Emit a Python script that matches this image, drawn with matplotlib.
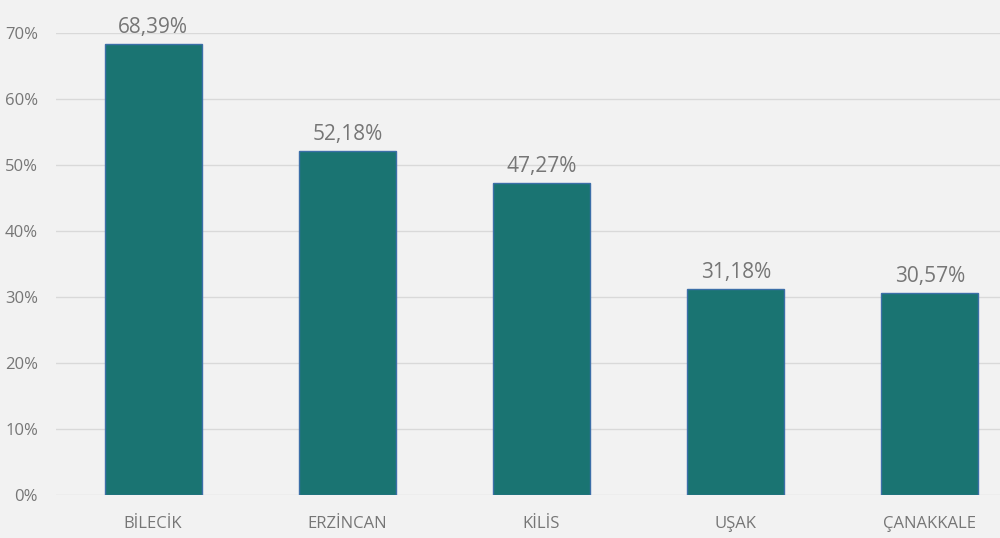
import matplotlib
matplotlib.use("Agg")
import matplotlib.pyplot as plt
from matplotlib.ticker import FuncFormatter

categories = ["BİLECİK", "ERZİNCAN", "KİLİS", "UŞAK", "ÇANAKKALE"]
values = [68.39, 52.18, 47.27, 31.18, 30.57]
yticks = [0, 10, 20, 30, 40, 50, 60, 70]

plt.rcParams['font.family'] = ['Open Sans', 'DejaVu Sans']

fig = plt.figure(figsize=(10, 5.38), dpi=100)
bg = "#F2F2F2"
fig.patch.set_facecolor(bg)
ax = fig.add_axes([0.056, (538-495)/538, 0.971, (495-33)/538])
ax.set_facecolor(bg)

x = list(range(len(categories)))
bars = ax.bar(x, values, width=0.5, color="#1A7472", edgecolor="#3C6FA8", linewidth=1.0, zorder=3)

for xi, v in zip(x, values):
    ax.text(xi, v + 0.9, f"{v:.2f}".replace(".", ",") + "%", ha="center", va="bottom",
            fontsize=15, color="#767676", zorder=4)

ax.set_xlim(-0.5, 4.5)
ax.set_ylim(0, 70)
ax.set_yticks(yticks)
ax.yaxis.set_major_formatter(FuncFormatter(lambda v, p: f"{int(v)}%"))
ax.set_xticks(x)
ax.set_xticklabels(categories)
ax.grid(axis="y", color="#D9D9D9", linewidth=1.0, zorder=0)
for s in ax.spines.values():
    s.set_visible(False)
ax.tick_params(axis="both", length=0, colors="#767676", labelsize=12)
ax.tick_params(axis="y", pad=13)
ax.tick_params(axis="x", pad=15)

fig.savefig("out.png", dpi=100, facecolor=bg)
